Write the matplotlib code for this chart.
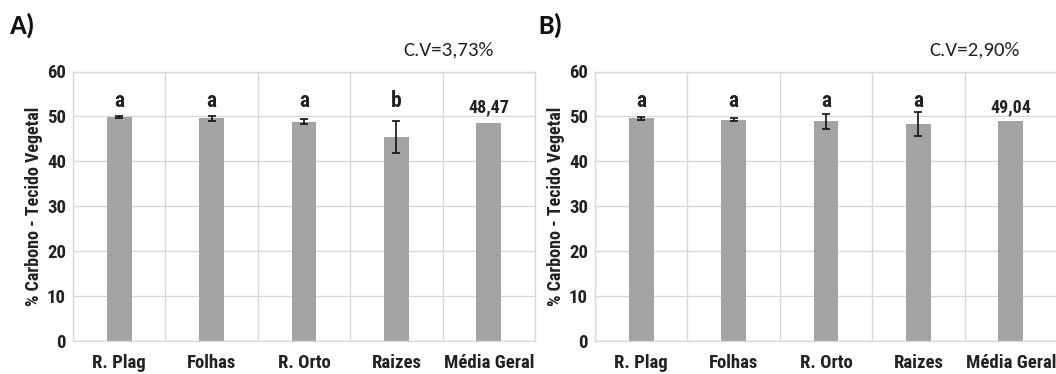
import matplotlib.pyplot as plt
from matplotlib import font_manager
import numpy as np

# data
categorias = ["R. Plag", "Folhas", "R. Orto", "Raizes", "Média Geral"]

carbono_a = [49.9, 49.6, 48.8, 45.4, 48.47]
erro_a = [0.2, 0.6, 0.55, 3.6, 0.0]
letras_a = ["a", "a", "a", "b", "48,47"]
cv_a = "C.V=3,73%"

carbono_b = [49.6, 49.25, 48.9, 48.3, 49.04]
erro_b = [0.3, 0.35, 1.6, 2.6, 0.0]
letras_b = ["a", "a", "a", "a", "49,04"]
cv_b = "C.V=2,90%"

bar_color = "#a3a3a3"
grid_color = "#d9d9d9"
txt_color = "#222222"

nomes = {f.name for f in font_manager.fontManager.ttflist}


def escolhe(opcoes):
    for n in opcoes:
        if n in nomes:
            return n
    return "DejaVu Sans"


# Arial Narrow look for the chart, Calibri look for the panel titles
narrow = escolhe(["Liberation Sans Narrow", "Arimo Narrow", "Roboto Condensed",
                  "Asap Condensed", "Barlow Semi Condensed", "Barlow Condensed"])
calibri = escolhe(["Carlito", "Lato", "Open Sans"])

fig = plt.figure(figsize=(10.56, 3.74), dpi=100)
ax_a = fig.add_axes([73 / 1056, 1 - 341 / 374, 462 / 1056, 269.5 / 374])
ax_b = fig.add_axes([595 / 1056, 1 - 341 / 374, 462 / 1056, 269.5 / 374])


def painel(ax, valores, erros, letras):
    x = np.arange(len(categorias))
    ax.bar(x, valores, width=0.27, color=bar_color, zorder=2)
    for i in range(len(x)):
        if erros[i] > 0:
            ax.errorbar(x[i], valores[i], yerr=erros[i], fmt="none",
                        ecolor="#111111", elinewidth=1.2, capsize=3,
                        capthick=1.2, zorder=3)
    for i, t in enumerate(letras):
        if i == len(letras) - 1:
            ax.text(x[i], 50.9, t, ha="center", va="baseline", fontsize=13,
                    fontweight="bold", family=narrow, color=txt_color)
        else:
            ax.text(x[i], 52.0, t, ha="center", va="baseline", fontsize=15.5,
                    fontweight="bold", family=narrow, color=txt_color)
    ax.set_xlim(-0.5, len(categorias) - 0.5)
    ax.set_ylim(0, 60)
    ax.set_yticks(range(0, 61, 10))
    ax.set_xticks(x)
    ax.set_xticklabels(categorias)
    ax.set_xticks(np.arange(-0.5, len(categorias), 1), minor=True)
    ax.grid(axis="y", which="major", color=grid_color, linewidth=1, zorder=0)
    ax.grid(axis="x", which="minor", color=grid_color, linewidth=1, zorder=0)
    ax.grid(axis="x", which="major", visible=False)
    ax.tick_params(axis="both", which="both", length=0)
    ax.tick_params(axis="x", pad=9)
    ax.tick_params(axis="y", pad=5)
    for lab in ax.get_xticklabels() + ax.get_yticklabels():
        lab.set_family(narrow)
        lab.set_fontweight("bold")
        lab.set_fontsize(13.5)
        lab.set_color(txt_color)
    for s in ax.spines.values():
        s.set_color(grid_color)
        s.set_linewidth(1)
    ax.set_ylabel("% Carbono - Tecido Vegetal", fontweight="bold",
                  family=narrow, fontsize=13, color=txt_color, labelpad=3)


painel(ax_a, carbono_a, erro_a, letras_a)
painel(ax_b, carbono_b, erro_b, letras_b)
ax_b.spines["right"].set_visible(False)

fig.text(10 / 1056, 1 - 34 / 374, "A)", fontsize=20, fontweight="bold",
         family=calibri, color="#111111")
fig.text(538 / 1056, 1 - 34 / 374, "B)", fontsize=20, fontweight="bold",
         family=calibri, color="#111111")
fig.text(403 / 1056, 1 - 55 / 374, cv_a, fontsize=15,
         family=calibri, color=txt_color)
fig.text(929 / 1056, 1 - 55 / 374, cv_b, fontsize=15,
         family=calibri, color=txt_color)

fig.savefig("out.png", dpi=100)
